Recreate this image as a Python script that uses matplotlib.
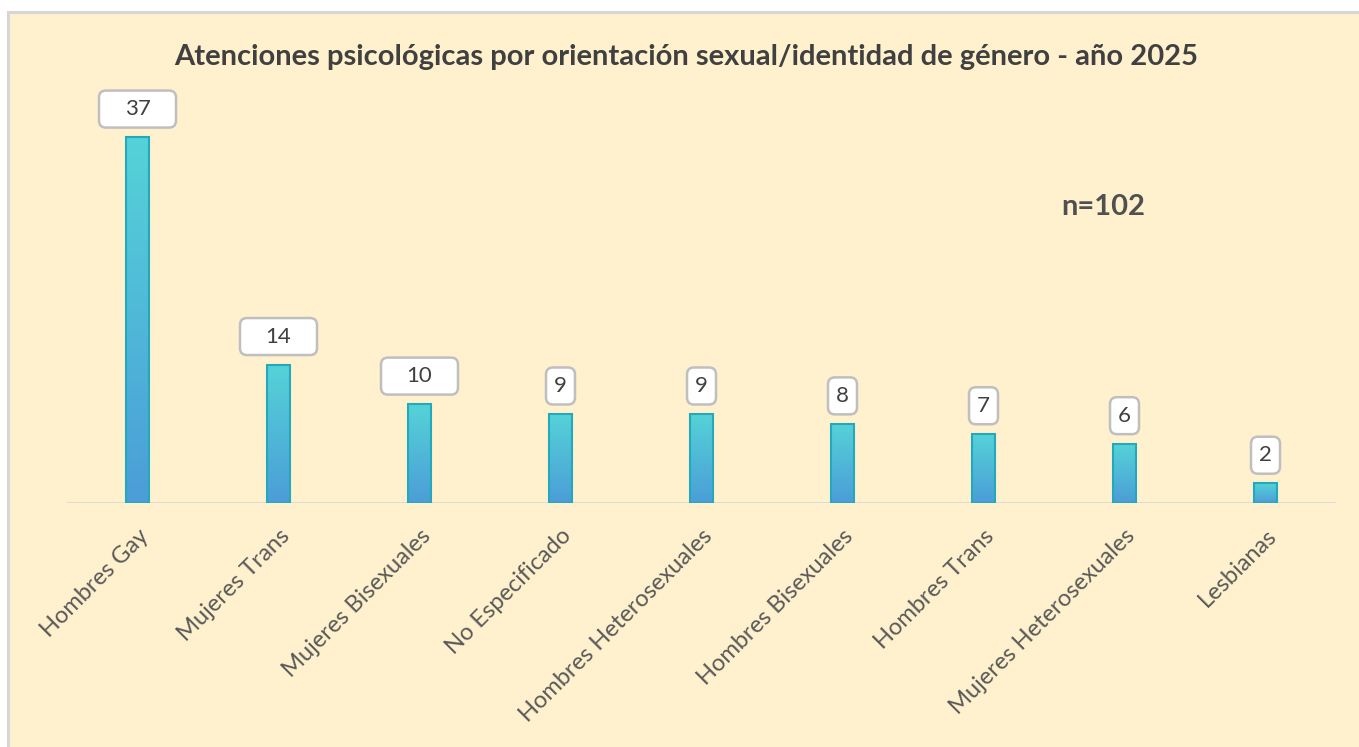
import numpy as np
import matplotlib
matplotlib.use("Agg")
import matplotlib.pyplot as plt
from matplotlib.patches import Rectangle, FancyBboxPatch
from matplotlib.colors import LinearSegmentedColormap
import matplotlib.transforms as mtransforms

categories = ["Hombres Gay", "Mujeres Trans", "Mujeres Bisexuales", "No Especificado",
              "Hombres Heterosexuales", "Hombres Bisexuales", "Hombres Trans",
              "Mujeres Heterosexuales", "Lesbianas"]
values = [37, 14, 10, 9, 9, 8, 7, 6, 2]
title = "Atenciones psicológicas por orientación sexual/identidad de género - año 2025"
note = "n=102"

W, H, DPI = 1359, 747, 100
fig = plt.figure(figsize=(W / DPI, H / DPI), dpi=DPI)
fig.patch.set_facecolor("white")

bg = "#FFF1CD"
# chart area background with border
fig.patches.append(Rectangle((8 / W, -0.01), 1.1, (H - 12) / H + 0.01, transform=fig.transFigure,
                             facecolor=bg, edgecolor="#D6D6D6", linewidth=2.2, zorder=-5))

ax = fig.add_axes([67 / W, (H - 503) / H, (1336 - 67) / W, (503 - 107.4) / H])
ax.set_zorder(2)
ax.set_facecolor("none")
for s in ax.spines.values():
    s.set_visible(False)

cmap = LinearSegmentedColormap.from_list("g", ["#4B9DD7", "#55D3D8"])
grad = np.linspace(0, 1, 256).reshape(-1, 1)
bw = 0.17
x = np.arange(len(categories))
for xi, v in zip(x, values):
    im = ax.imshow(grad, extent=[xi - bw / 2, xi + bw / 2, 0, v], origin="lower",
                   cmap=cmap, aspect="auto", zorder=2)
    r = Rectangle((xi - bw / 2, 0), bw, v, facecolor="none", edgecolor="#22A9BE",
                  linewidth=1.5, zorder=3)
    ax.add_patch(r)
    im.set_clip_path(r)

ax.axhline(0, color="#D9D9D9", linewidth=2, zorder=1)
ax.set_xlim(-0.5, len(categories) - 0.5)
ax.set_ylim(0, 40)
ax.set_yticks([])
ax.set_xticks(x)
ax.set_xticklabels(categories, rotation=45, ha="right", rotation_mode="anchor",
                   fontsize=17, color="#595959", fontfamily="Lato")
ax.tick_params(axis="x", length=0, pad=16)

# value label boxes
for i, (xi, v) in enumerate(zip(x, values)):
    wide = i < 3
    bwid = 0.77 if wide else 0.29
    bh = 0.37
    off = mtransforms.ScaledTranslation(xi, v, ax.transData)
    trans = fig.dpi_scale_trans + off
    box = FancyBboxPatch((-bwid / 2, 0.095), bwid, bh, boxstyle="round,pad=0,rounding_size=0.07",
                         facecolor="white", edgecolor="#BFBFBF", linewidth=1.8,
                         transform=trans, zorder=4, clip_on=False)
    ax.add_patch(box)
    ax.text(0, 0.095 + bh / 2, str(v), transform=trans, ha="center", va="center",
            fontsize=16, color="#404040", fontfamily="Lato", zorder=5)

fig.text(686 / W, 1 - 57 / H, title, ha="center", va="center", fontsize=21,
         fontweight="bold", color="#404040", fontfamily="Lato")
fig.text(1103 / W, 1 - 207 / H, note, ha="center", va="center", fontsize=21,
         fontweight="bold", color="#505050", fontfamily="Lato")

fig.savefig("out.png", dpi=DPI, facecolor=fig.get_facecolor())
